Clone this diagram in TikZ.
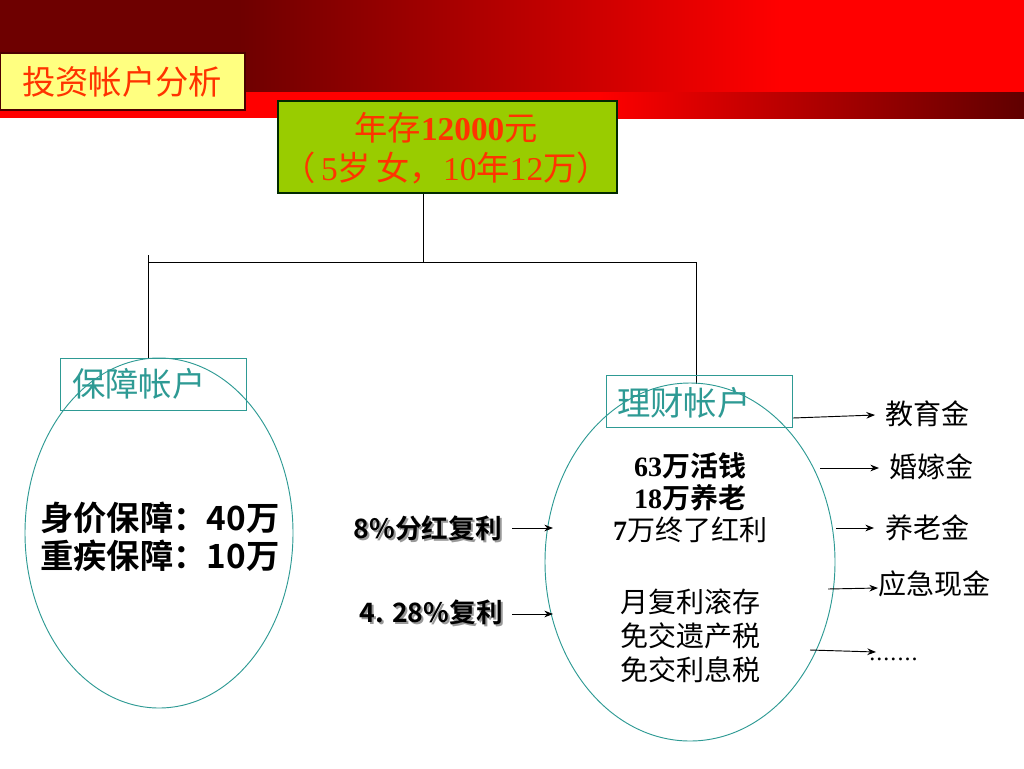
\documentclass[tikz,border=0pt]{standalone}
\usepackage{fontspec}
\setmainfont{Liberation Serif}
\newfontfamily\cjk{Noto Sans CJK SC}[BoldFont={Noto Sans CJK SC Bold}]
\newcommand\zh[1]{{\cjk #1}}
\usetikzlibrary{shapes.geometric,arrows.meta}
\definecolor{darkred}{HTML}{6E0000}
\definecolor{brightred}{HTML}{FF0000}
\definecolor{tealc}{HTML}{2E9A94}
\definecolor{titleyellow}{HTML}{FFFF80}
\definecolor{boxgreen}{HTML}{99CC00}
\definecolor{orangered}{HTML}{FF3300}
\tikzset{
  line/.style={draw=black, line width=0.7pt},
  arr/.style={line, -{Stealth[length=6.5pt,width=5pt]}},
  acct/.style={draw=tealc, line width=0.7pt, minimum width=139.5pt, minimum height=39pt, inner sep=0pt},
  acctxt/.style={text=tealc, font=\cjk\fontsize{25}{28}\selectfont, inner sep=0pt, anchor=west},
  oval/.style={ellipse, draw=tealc, line width=0.7pt, inner sep=0pt},
  rlabel/.style={font=\cjk\fontsize{21}{24}\selectfont, inner sep=0pt, anchor=west},
  inlabel/.style={font=\cjk\bfseries\fontsize{20}{24}\selectfont, inner sep=0pt, anchor=east},
  shadowlabel/.style={inlabel, text=black!40},
}
\begin{document}
\begin{tikzpicture}[x=0.75pt, y=-0.75pt]
\useasboundingbox (0,0) rectangle (1024,768);
% header band
\fill[darkred] (0,0) rectangle (240,93);
\shade[left color=darkred, right color=brightred] (239,0) rectangle (780,93);
\fill[brightred] (779,0) rectangle (1024,93);
\fill[brightred] (0,92) rectangle (600,118);
\shade[left color=brightred, right color=darkred!110] (599,92) rectangle (1024,118);
% title
\node[draw=black!70!red, line width=0.8pt, fill=titleyellow, minimum width=183.75pt, minimum height=42.75pt, inner sep=0pt] (title) at (122.5,81.5) {};
\node[text=orangered, font=\cjk\fontsize{25}{28}\selectfont, inner sep=0pt] (titletxt) at (122,82) {投资帐户分析};
% top box
\node[draw=black!60!green!40!black, line width=0.8pt, fill=boxgreen, minimum width=254.25pt, minimum height=69pt, inner sep=0pt] (top) at (447.5,147) {};
\node[text=orangered, font=\fontsize{25}{30}\selectfont, inner sep=0pt, align=center] (toptxt) at (446,148) {\zh{年存}\textbf{12000}\zh{元}\\\zh{（}\,5\zh{岁}\,\zh{女，}10\zh{年}12\zh{万）}};
% tree connectors
\coordinate (j) at (423,262);
\coordinate (jl) at (148,262);
\coordinate (jr) at (696,262);
\coordinate (jlt) at (148,255);
\coordinate (lbtop) at (148,358);
\coordinate (rbin) at (696,384);
\draw[line] (top.south -| j) -- (j);
\draw[line] (jl) -- (jr);
\draw[line] (jlt) -- (lbtop);
\draw[line] (jr) -- (rbin);
% left account
\node[acct] (lbox) at (153,384) {};
\node[acctxt] (lboxtxt) at (72,384) {保障帐户};
\node[oval, minimum width=201pt, minimum height=262.5pt] (lell) at (159,533) {};
\node[font=\cjk\bfseries\fontsize{25}{28.5}\selectfont, inner sep=0pt, align=left, anchor=west] (ltxt) at (40,537) {身价保障：40万\\重疾保障：10万};
% right account
\node[acct] (rbox) at (699.5,401) {};
\node[acctxt] (rboxtxt) at (617,403) {理财帐户};
\node[oval, minimum width=217.5pt, minimum height=268.5pt] (rell) at (690,562) {};
\node[font=\bfseries\fontsize{21}{24}\selectfont, inner sep=0pt, align=center] (rtxt1) at (690,498) {63\zh{万活钱}\\18\zh{万养老}\\7{\cjk\mdseries 万终了红利}};
\node[font=\cjk\fontsize{21}{25.5}\selectfont, inner sep=0pt, align=center] (rtxt2) at (690,636) {月复利滚存\\免交遗产税\\免交利息税};
% inputs
\node[shadowlabel] (in1s) at (504,530) {8\%分红复利};
\node[inlabel] (in1) at (502,528) {8\%分红复利};
\node[shadowlabel] (in2s) at (505,614) {4. 28\%复利};
\node[inlabel] (in2) at (503,612) {4. 28\%复利};
\coordinate (in1a) at (512,528);
\coordinate (in1b) at (553,528);
\coordinate (in2a) at (512,614);
\coordinate (in2b) at (553,614);
\draw[arr] (in1a) -- (in1b);
\draw[arr] (in2a) -- (in2b);
% outputs
\node[rlabel] (o1) at (885,414) {教育金};
\node[rlabel] (o2) at (889,467) {婚嫁金};
\node[rlabel] (o3) at (885,528) {养老金};
\node[rlabel] (o4) at (878,584) {应急现金};
\node[font=\fontsize{18}{20}\selectfont, inner sep=0pt, anchor=west] (o5) at (869,659) {.\kern0.8pt.\kern0.8pt.\kern0.8pt.\kern0.8pt.\kern0.8pt.\kern0.8pt.};
\coordinate (s1) at (793,418);
\coordinate (e1) at (875,415);
\coordinate (s2) at (820,468);
\coordinate (e2) at (879,468);
\coordinate (s3) at (836,528);
\coordinate (e3) at (874,528);
\coordinate (s4) at (828,589);
\coordinate (e4) at (878,588);
\coordinate (s5) at (810,650);
\coordinate (e5) at (876,652);
\draw[arr] (s1) -- (e1);
\draw[arr] (s2) -- (e2);
\draw[arr] (s3) -- (e3);
\draw[arr] (s4) -- (e4);
\draw[arr] (s5) -- (e5);
\end{tikzpicture}
\end{document}
